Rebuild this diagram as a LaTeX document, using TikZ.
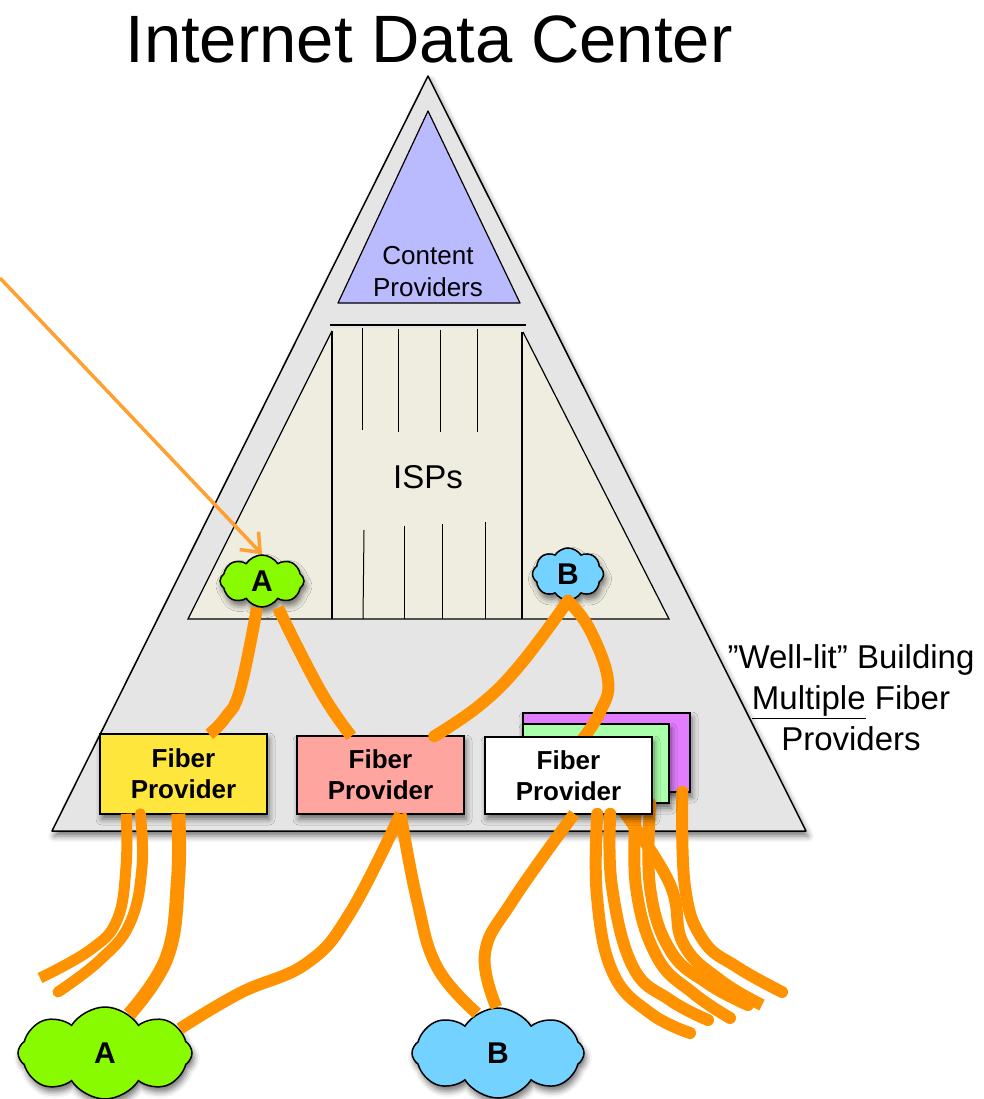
\documentclass[tikz,border=0pt]{standalone}
\usepackage{fontspec}
\setmainfont{Liberation Sans}
\usepackage{tikz}
\usetikzlibrary{arrows.meta,shapes.symbols,shapes.geometric}
\usetikzlibrary{calc,shadows.blur}
\definecolor{fibre}{RGB}{255,146,0}
\begin{document}
\begin{tikzpicture}[x=1pt,y=-1pt]
%styles : fibres, boites et nuages
\tikzset{ombre/.style={blur shadow={shadow xshift=2pt,shadow yshift=-5pt,shadow blur radius=6pt,shadow opacity=55}}}
\tikzset{fibre/.style={draw=fibre,line width=12pt,line cap=round,line join=round}}
\tikzset{boite/.style={rectangle,draw=black,line width=1.5pt,minimum width=167pt,minimum height=79pt,align=center,inner sep=0pt,ombre,font=\fontsize{26}{31}\selectfont\bfseries}}
\tikzset{nuage/.style={cloud,cloud puffs=8,cloud puff arc=115,draw=black,line width=1.5pt,inner sep=0pt,aspect=1.7,ombre,font=\fontsize{30}{30}\selectfont\bfseries}}
\useasboundingbox (0,0) rectangle (984,1099);
\node (titre) at (429,39) {\fontsize{67}{67}\selectfont Internet Data Center};
%le batiment et ses deux etages
\draw[fill=black!10,draw=black,line width=1.5pt,line join=round,ombre] (428,76)--(806,831)--(52,831)--cycle;
\draw[fill=blue!27,draw=black,line width=1.2pt,line join=round] (428,111)--(520,303)--(338,303)--cycle;
\node[align=center,font=\fontsize{26}{32}\selectfont] (content) at (428,272) {Content\\Providers};
\draw[line width=1.5pt] (330,325)--(526,325);
\fill[fill={rgb,255:red,238;green,237;blue,224}] (188,619)--(332,331)--(332,328)--(522,328)--(522,332)--(669,619)--cycle;
\draw[line width=1.2pt] (332,331)--(188,619)--(669,619)--(523,332);
\draw[line width=1.2pt] (332,331)--(332,619);
\draw[line width=1.2pt] (522,332)--(522,619);
\draw[line width=1pt] (362,328)--(362,430);
\draw[line width=1pt] (398,329)--(398,432);
\draw[line width=1pt] (440,330)--(440,432);
\draw[line width=1pt] (477,329)--(477,432);
\draw[line width=1pt] (364,530)--(363,619);
\draw[line width=1pt] (404,526)--(404,619);
\draw[line width=1pt] (442,524)--(442,619);
\draw[line width=1pt] (485,522)--(485,619);
\draw[black!8,line width=.6pt] (376,418)--(428,523)--(475,432);
\node[font=\fontsize{33}{33}\selectfont] (isps) at (428,477) {ISPs};
%les nuages et les boites
\node[nuage,fill={rgb,255:red,136;green,251;blue,0},minimum width=84pt,minimum height=52pt] (petitA) at (262,581) {A};
\node[nuage,fill={rgb,255:red,115;green,210;blue,255},minimum width=71pt,minimum height=52pt] (petitB) at (568,574) {B};
\node[nuage,fill={rgb,255:red,136;green,251;blue,0},minimum width=174pt,minimum height=92pt] (grandA) at (105,1053) {A};
\node[nuage,fill={rgb,255:red,115;green,210;blue,255},minimum width=172pt,minimum height=90pt] (grandB) at (498,1053) {B};
\node[boite,fill={rgb,255:red,255;green,230;blue,60},minimum height=80pt] (jaune) at (183.5,774) {Fiber\\Provider};
\node[boite,fill={rgb,255:red,255;green,165;blue,160},minimum height=78pt] (rose) at (380.5,775) {};
\node[font=\fontsize{26}{31}\selectfont\bfseries,align=center] (rosetxt) at (rose) {Fiber\\Provider};
\node[boite,fill={rgb,255:red,226;green,125;blue,255}] (violet) at (606.5,752.5) {};
%les fibres sous les boites
\draw[fibre,line cap=butt] plot[smooth,tension=.7] coordinates {([xshift=87pt,yshift=1pt]violet.south west) (668,880) (683,943) (720,980) (762,1005)};
\draw[fibre] plot[smooth,tension=.7] coordinates {([xshift=160pt,yshift=1pt]violet.south west) (685,887) (703,940) (737,967) (782,992)};
\node[boite,fill={rgb,255:red,170;green,255;blue,170},minimum width=146pt] (vert) at (596,763.5) {};
\draw[fibre] plot[smooth,tension=.7] coordinates {([xshift=114pt]vert.south west) (636,887) (657,957) (693,993) (730,1018)};
\draw[fibre] plot[smooth,tension=.7] coordinates {([xshift=128pt]vert.south west) (650,887) (670,950) (707,983) (748,1005)};
\coordinate (hautblanc) at (582,740);
\draw[fibre] plot[smooth,tension=.7] coordinates {(petitB.south) (590,630) (608,680) (600,712) (hautblanc)};
\node[boite,fill=white,minimum height=77pt] (blanc) at (568.5,775.5) {Fiber\\Provider};
\draw[fibre] plot[smooth,tension=.7] coordinates {([xshift=113pt,yshift=1pt]blanc.south west) (597,897) (613,973) (650,1013) (690,1033)};
\draw[fibre] plot[smooth,tension=.7] coordinates {([xshift=126pt,yshift=1pt]blanc.south west) (612,887) (633,967) (670,1000) (708,1020)};
%les fibres des boites vers les nuages
\draw[fibre,line cap=butt] plot[smooth,tension=.7] coordinates {([xshift=-5pt]petitA.south) (240,690) (225,718) ([xshift=110pt,yshift=-1pt]jaune.north west)};
\draw[fibre,line cap=butt] plot[smooth,tension=.7] coordinates {([xshift=16pt]petitA.south) (320,690) ([xshift=55pt,yshift=-1pt]rose.north west)};
\draw[fibre] plot[smooth,tension=.7] coordinates {(petitB.south) (520,665) (480,705) ([xshift=138pt,yshift=-1pt]rose.north west)};
\draw[fibre,line cap=butt,line width=11pt] plot[smooth,tension=.7] coordinates {([xshift=27pt,yshift=1pt]jaune.south west) (126,867) (117,920) (90,950) (40,978)};
\draw[fibre,line width=11pt] plot[smooth,tension=.7] coordinates {([xshift=41pt,yshift=1pt]jaune.south west) (142,867) (130,923) (100,960) (58,992)};
\draw[fibre,line cap=butt,line width=14pt] plot[smooth,tension=.7] coordinates {([xshift=79pt,yshift=1pt]jaune.south west) (178,880) (167,957) (grandA.58)};
\draw[fibre,line cap=butt] plot[smooth,tension=.7] coordinates {([yshift=1pt,xshift=20pt]rose.south) (350,913) (307,963) (240,993) (grandA.18)};
\draw[fibre,line cap=butt] plot[smooth,tension=.7] coordinates {([yshift=1pt,xshift=20pt]rose.south) (417,900) (437,967) (grandB.118)};
\draw[fibre,line cap=butt] plot[smooth,tension=.7] coordinates {([xshift=90pt,yshift=1pt]blanc.south west) (513,900) (485,953) (grandB.92)};
%la fleche
\coordinate (depart) at (0,278);
\draw[draw={rgb,255:red,255;green,160;blue,50},line width=3.5pt,-{Straight Barb[length=16pt,width=26pt,line width=3.5pt]}] (depart)--(petitA.north);
%le texte de droite
\node[align=center,font=\fontsize{33}{41}\selectfont] (legende) at (851,698) {"Well-lit" Building\\\underline{Multiple} Fiber\\Providers};
\end{tikzpicture}
\end{document}
